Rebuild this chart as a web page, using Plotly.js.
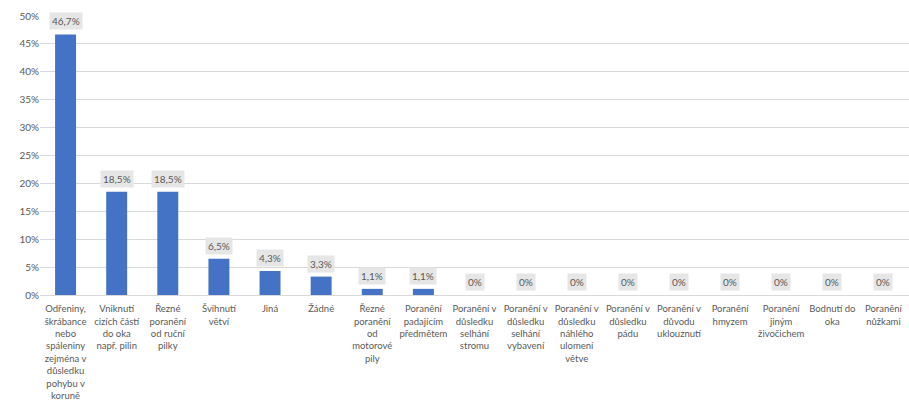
<!DOCTYPE html>
<html>
<head>
<meta charset="utf-8">
<script src="https://cdn.plot.ly/plotly-3.0.1.min.js"></script>
<style>html,body{margin:0;padding:0;background:#fff;}#chart{width:909px;height:405px;}</style>
</head>
<body>
<div id="chart"></div>
<script>
const categories = [
  "Odřeniny,<br>škrábance<br>nebo<br>spáleniny<br>zejména v<br>důsledku<br>pohybu v<br>koruně",
  "Vniknutí<br>cizích částí<br>do oka<br>např. pilin",
  "Řezné<br>poranění<br>od ruční<br>pilky",
  "Švihnutí<br>větví",
  "Jiná",
  "Žádné",
  "Řezné<br>poranění<br>od<br>motorové<br>pily",
  "Poranění<br>padajícím<br>předmětem",
  "Poranění v<br>důsledku<br>selhání<br>stromu",
  "Poranění v<br>důsledku<br>selhání<br>vybavení",
  "Poranění v<br>důsledku<br>náhlého<br>ulomení<br>větve",
  "Poranění v<br>důsledku<br>pádu",
  "Poranění v<br>důvodu<br>uklouznutí",
  "Poranění<br>hmyzem",
  "Poranění<br>jiným<br>živočichem",
  "Bodnutí do<br>oka",
  "Poranění<br>nůžkami"
];
const values = [46.7, 18.5, 18.5, 6.5, 4.3, 3.3, 1.1, 1.1, 0, 0, 0, 0, 0, 0, 0, 0, 0];
const valueLabels = ["46,7%", "18,5%", "18,5%", "6,5%", "4,3%", "3,3%", "1,1%", "1,1%", "0%", "0%", "0%", "0%", "0%", "0%", "0%", "0%", "0%"];
const yTickVals = [0, 5, 10, 15, 20, 25, 30, 35, 40, 45, 50];
const yTickText = ["0%", "5%", "10%", "15%", "20%", "25%", "30%", "35%", "40%", "45%", "50%"];

const xs = categories.map((c, i) => i);
const fontFam = "Lato, 'Open Sans', sans-serif";

const annotations = values.map((v, i) => ({
  x: i, y: v, xref: 'x', yref: 'y',
  text: valueLabels[i],
  showarrow: false,
  yanchor: 'bottom',
  yshift: 4,
  bgcolor: '#e6e6e6',
  borderpad: 2,
  font: {family: fontFam, size: 10, color: '#595959'}
}));

const trace = {
  type: 'bar',
  x: xs,
  y: values,
  marker: {color: '#4472c4'},
  hoverinfo: 'none'
};

const layout = {
  width: 909, height: 405,
  margin: {l: 40, r: 0, t: 16, b: 110},
  paper_bgcolor: '#fff', plot_bgcolor: '#fff',
  bargap: 0.59,
  showlegend: false,
  font: {family: fontFam, color: '#595959'},
  xaxis: {
    tickmode: 'array', tickvals: xs, ticktext: categories,
    range: [-0.5, categories.length - 0.5],
    showgrid: false, zeroline: false,
    showline: true, linecolor: '#d9d9d9', linewidth: 1,
    ticks: '', ticklabelstandoff: 5,
    tickangle: 0,
    tickfont: {family: fontFam, size: 9.5, color: '#595959'}
  },
  yaxis: {
    range: [0, 50], tickmode: 'array', tickvals: yTickVals, ticktext: yTickText,
    showgrid: true, gridcolor: '#d9d9d9', gridwidth: 1,
    zeroline: false, showline: false, ticks: '',
    ticklabelstandoff: 0,
    tickfont: {family: fontFam, size: 10, color: '#595959'}
  },
  annotations: annotations
};

Plotly.newPlot('chart', [trace], layout, {displayModeBar: false, staticPlot: true});
</script>
</body>
</html>
